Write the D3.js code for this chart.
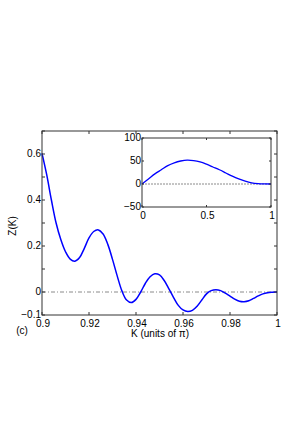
<!DOCTYPE html>
<html>
<head>
<meta charset="utf-8">
<script src="https://cdn.jsdelivr.net/npm/d3@7"></script>
<style>
  body { margin: 0; background: #fff; }
  svg { font-family: "Liberation Sans", Arial, sans-serif; }
</style>
</head>
<body>
<div id="chart"></div>
<script>
// main panel: Z(K) near the zone edge
var mainK = [0.900, 0.902, 0.904, 0.906, 0.908, 0.910, 0.912, 0.914, 0.916, 0.918,
             0.920, 0.922, 0.924, 0.926, 0.928, 0.930, 0.932, 0.934, 0.936, 0.938,
             0.940, 0.942, 0.944, 0.946, 0.948, 0.950, 0.952, 0.954, 0.956, 0.958,
             0.960, 0.962, 0.964, 0.966, 0.968, 0.970, 0.972, 0.974, 0.976, 0.978,
             0.980, 0.982, 0.984, 0.986, 0.988, 0.990, 0.992, 0.994, 0.996, 0.998, 1.000];
var mainZ = [0.603, 0.510, 0.400, 0.300, 0.228, 0.175, 0.143, 0.134, 0.150, 0.190,
             0.235, 0.263, 0.270, 0.252, 0.207, 0.142, 0.070, 0.005, -0.035, -0.046,
             -0.032, 0.000, 0.038, 0.066, 0.079, 0.074, 0.050, 0.014, -0.024, -0.058,
             -0.078, -0.085, -0.080, -0.062, -0.035, -0.008, 0.006, 0.010, 0.006, -0.005,
             -0.018, -0.031, -0.040, -0.042, -0.038, -0.028, -0.017, -0.008, -0.003, -0.001, 0.000];
var mainXTicks = [0.9, 0.92, 0.94, 0.96, 0.98, 1];
var mainYTicks = [-0.1, 0, 0.1, 0.2, 0.3, 0.4, 0.5, 0.6, 0.7];
var mainYLabels = [-0.1, 0, 0.2, 0.4, 0.6];

// inset: whole range of K
var insetK = [0, 0.05, 0.1, 0.15, 0.2, 0.25, 0.3, 0.35, 0.4, 0.45, 0.5,
              0.55, 0.6, 0.65, 0.7, 0.75, 0.8, 0.85, 0.9, 0.95, 1];
var insetZ = [0, 11, 22, 31, 40, 46, 50, 52, 51, 48, 43,
              37, 31, 24, 17, 11, 6, 2.5, 0.8, 0.2, 0];
var insetXTicks = [0, 0.5, 1];
var insetYTicks = [-50, 0, 50, 100];

var width = 300, height = 429;
var svg = d3.select("#chart").append("svg")
  .attr("width", width)
  .attr("height", height);

function panel(box, xDom, yDom, xs, ys, xTicks, yTicks, yLabels, opts) {
  var x = d3.scaleLinear().domain(xDom).range([box.l, box.r]);
  var y = d3.scaleLinear().domain(yDom).range([box.b, box.t]);
  var g = svg.append("g");
  var tl = opts.tick;

  // zero reference line
  g.append("line")
    .attr("x1", box.l).attr("x2", box.r)
    .attr("y1", y(0)).attr("y2", y(0))
    .attr("stroke", "#8a8a8a")
    .attr("stroke-width", 1)
    .attr("stroke-dasharray", opts.dash);

  // curve
  var pts = xs.map(function (d, i) { return [d, ys[i]]; });
  g.append("path")
    .datum(pts)
    .attr("fill", "none")
    .attr("stroke", "#0000ff")
    .attr("stroke-width", opts.lw)
    .attr("d", d3.line()
      .x(function (d) { return x(d[0]); })
      .y(function (d) { return y(d[1]); })
      .curve(d3.curveCatmullRom.alpha(0.5)));

  // box
  g.append("rect")
    .attr("x", box.l).attr("y", box.t)
    .attr("width", box.r - box.l).attr("height", box.b - box.t)
    .attr("fill", "none")
    .attr("stroke", "#333")
    .attr("stroke-width", 1);

  // inward ticks on all four sides
  xTicks.forEach(function (v) {
    g.append("line").attr("x1", x(v)).attr("x2", x(v))
      .attr("y1", box.b).attr("y2", box.b - tl).attr("stroke", "#333");
    g.append("line").attr("x1", x(v)).attr("x2", x(v))
      .attr("y1", box.t).attr("y2", box.t + tl).attr("stroke", "#333");
    g.append("text")
      .attr("x", x(v) + 1).attr("y", box.b + 12)
      .attr("text-anchor", "middle")
      .attr("font-size", "10px")
      .text(d3.format("")(v));
  });
  yTicks.forEach(function (v) {
    g.append("line").attr("x1", box.l).attr("x2", box.l + tl)
      .attr("y1", y(v)).attr("y2", y(v)).attr("stroke", "#333");
    g.append("line").attr("x1", box.r).attr("x2", box.r - tl)
      .attr("y1", y(v)).attr("y2", y(v)).attr("stroke", "#333");
  });
  yLabels.forEach(function (v) {
    g.append("text")
      .attr("x", box.l - 1).attr("y", y(v) + 3)
      .attr("text-anchor", "end")
      .attr("font-size", "10px")
      .text(d3.format("")(v));
  });
  return g;
}

// main axes
panel({ l: 42, r: 277, t: 131, b: 315 }, [0.9, 1], [-0.1, 0.7],
  mainK, mainZ, mainXTicks, mainYTicks, mainYLabels,
  { tick: 3, lw: 1.5, dash: "4,2,1,2" });

// inset axes
panel({ l: 142, r: 271, t: 138, b: 207 }, [0, 1], [-50, 100],
  insetK, insetZ, insetXTicks, insetYTicks, insetYTicks,
  { tick: 2, lw: 1.3, dash: "2,1" });

// labels
svg.append("text")
  .attr("transform", "translate(16,226) rotate(-90)")
  .attr("text-anchor", "middle")
  .attr("font-size", "10px")
  .text("Z(K)");
svg.append("text")
  .attr("x", 160).attr("y", 337)
  .attr("text-anchor", "middle")
  .attr("font-size", "10px")
  .text("K (units of π)");
svg.append("text")
  .attr("x", 22).attr("y", 334)
  .attr("text-anchor", "middle")
  .attr("font-size", "10px")
  .text("(c)");
</script>
</body>
</html>
